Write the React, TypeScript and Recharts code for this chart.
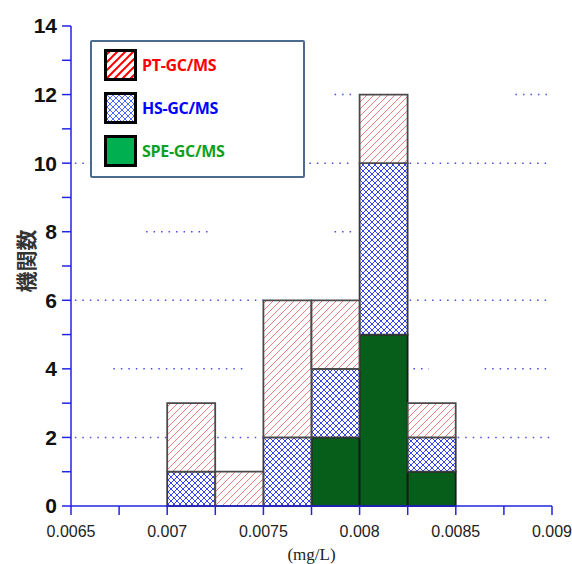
import React from 'react';
import {
  ComposedChart,
  Bar,
  XAxis,
  YAxis,
  ReferenceLine,
  Legend,
} from 'recharts';

// histogram bins (centre of each 0.00025 mg/L bin)
const binCenters = [0.007125, 0.007375, 0.007625, 0.007875, 0.008125, 0.008375];
const speCounts = [0, 0, 0, 2, 5, 1];
const hsCounts = [1, 0, 2, 2, 5, 1];
const ptCounts = [2, 1, 4, 2, 2, 1];

const xTicks = [0.0065, 0.00675, 0.007, 0.00725, 0.0075, 0.00775, 0.008, 0.00825, 0.0085, 0.00875, 0.009];
const xTickLabels = ['0.0065', '', '0.007', '', '0.0075', '', '0.008', '', '0.0085', '', '0.009'];
const yTicks = [0, 1, 2, 3, 4, 5, 6, 7, 8, 9, 10, 11, 12, 13, 14];

// the dotted grid only shows in pieces in the original: [y, xFrom, xTo]
const gridPieces: [number, number, number][] = [
  [12, 0.00787, 0.00796],
  [12, 0.00881, 0.00899],
  [10, 0.00652, 0.0066],
  [10, 0.0077, 0.00797],
  [10, 0.00826, 0.00899],
  [8, 0.00689, 0.00722],
  [8, 0.00787, 0.00796],
  [6, 0.00652, 0.0075],
  [6, 0.00826, 0.00899],
  [4, 0.00672, 0.0074],
  [4, 0.00828, 0.00836],
  [4, 0.00865, 0.00899],
  [2, 0.00652, 0.007],
  [2, 0.00726, 0.0075],
  [2, 0.00851, 0.00899],
];

const data = binCenters.map((x, i) => ({
  x,
  spe: speCounts[i],
  hs: hsCounts[i],
  pt: ptCounts[i],
}));

const legendItems = [
  { name: 'PT-GC/MS', fill: 'url(#ptLegend)', color: '#ff0000' },
  { name: 'HS-GC/MS', fill: 'url(#hsLegend)', color: '#0000ff' },
  { name: 'SPE-GC/MS', fill: '#00b050', color: '#10a020' },
];

const AXIS = '#2323e0';

const LegendBox = () => (
  <div
    style={{
      width: 215,
      height: 138,
      border: '2.5px solid #4a6a90',
      borderRadius: 2,
      background: '#fff',
      boxSizing: 'border-box',
      paddingTop: 1,
      paddingLeft: 12,
    }}
  >
    {legendItems.map(item => (
      <div key={item.name} style={{ display: 'flex', alignItems: 'center', height: 43 }}>
        <svg width={33} height={32}>
          <rect x={1.5} y={1.5} width={30} height={29} fill={item.fill} stroke="#000" strokeWidth={3} />
        </svg>
        <span
          style={{
            marginLeft: 5,
            fontFamily: '"Open Sans", sans-serif',
            fontWeight: 700,
            fontSize: 16,
            letterSpacing: -0.3,
            color: item.color,
          }}
        >
          {item.name}
        </span>
      </div>
    ))}
  </div>
);

const YLabel = (props: any) => {
  const { viewBox } = props;
  const cx = viewBox.x + 25;
  const cy = viewBox.y + viewBox.height / 2 - 5;
  return (
    <text
      x={cx}
      y={cy}
      transform={`rotate(-90 ${cx} ${cy})`}
      textAnchor="middle"
      dominantBaseline="central"
      fontFamily='"Noto Sans CJK JP", sans-serif'
      fontWeight={700}
      fontSize={21}
      fill="#333"
    >
      機関数
    </text>
  );
};

export default function App() {
  return (
    <div>
      <style>{'body{margin:0}'}</style>
      <svg width={0} height={0} style={{ position: 'absolute' }}>
        <defs>
          <pattern id="ptHatch" patternUnits="userSpaceOnUse" width={7} height={7}>
            <rect width={7} height={7} fill="#fff" />
            <path d="M-1,1 l2,-2 M0,7 l7,-7 M6,8 l2,-2" stroke="#f07070" strokeWidth={0.9} />
          </pattern>
          <pattern id="hsHatch" patternUnits="userSpaceOnUse" width={6} height={6}>
            <rect width={6} height={6} fill="#fff" />
            <path d="M0,0 L6,6 M0,6 L6,0" stroke="#1f2fe6" strokeWidth={0.9} />
          </pattern>
          <pattern id="ptLegend" patternUnits="userSpaceOnUse" width={8} height={8}>
            <rect width={8} height={8} fill="#fff" />
            <path d="M-2,2 l4,-4 M0,8 l8,-8 M6,10 l4,-4" stroke="#ff0000" strokeWidth={2} />
          </pattern>
          <pattern id="hsLegend" patternUnits="userSpaceOnUse" width={6} height={6}>
            <rect width={6} height={6} fill="#fff" />
            <path d="M0,0 L6,6 M0,6 L6,0" stroke="#2040ff" strokeWidth={0.8} />
          </pattern>
        </defs>
      </svg>
      <ComposedChart
        width={572}
        height={564}
        data={data}
        margin={{ top: 26, right: 20, left: 0, bottom: 0 }}
        style={{ fontFamily: '"Liberation Sans", Arial, sans-serif' }}
      >
        <XAxis
          dataKey="x"
          type="number"
          domain={[0.0065, 0.009]}
          ticks={xTicks}
          tickFormatter={(v: number) => xTickLabels[xTicks.indexOf(v)] ?? ''}
          interval={0}
          height={58}
          axisLine={{ stroke: AXIS, strokeWidth: 1.5 }}
          tickLine={{ stroke: AXIS, strokeWidth: 1.5 }}
          tickSize={9}
          tickMargin={11}
          tick={{ fill: '#222', fontSize: 16 }}
          allowDataOverflow
          label={{
            value: '(mg/L)',
            position: 'insideBottom',
            offset: 4,
            style: { fontFamily: '"Liberation Serif", serif', fontSize: 17, fill: '#222' },
          }}
        />
        <XAxis
          xAxisId="top"
          orientation="top"
          type="number"
          domain={[0.0065, 0.009]}
          ticks={xTicks}
          interval={0}
          height={0}
          tickFormatter={() => ''}
          axisLine={{ stroke: AXIS, strokeWidth: 1.5 }}
          tickLine={{ stroke: AXIS, strokeWidth: 1.5 }}
          tickSize={8}
        />
        <YAxis
          type="number"
          domain={[0, 14]}
          ticks={yTicks}
          interval={0}
          width={71}
          tickFormatter={(v: number) => (v % 2 === 0 ? String(v) : '')}
          axisLine={{ stroke: AXIS, strokeWidth: 1.5 }}
          tickLine={{ stroke: AXIS, strokeWidth: 1.5 }}
          tickSize={9}
          tickMargin={5}
          tick={{ fill: '#111', fontSize: 21, fontWeight: 700 }}
          label={<YLabel />}
        />
        <YAxis
          yAxisId="right"
          orientation="right"
          type="number"
          domain={[0, 14]}
          ticks={yTicks}
          interval={0}
          width={0}
          tickFormatter={() => ''}
          axisLine={{ stroke: AXIS, strokeWidth: 1.5 }}
          tickLine={{ stroke: AXIS, strokeWidth: 1.5 }}
          tickSize={8}
        />
        {gridPieces.map(([y, x1, x2], i) => (
          <ReferenceLine
            key={`g-${i}`}
            segment={[
              { x: x1, y },
              { x: x2, y },
            ]}
            stroke="#4a4af0"
            strokeWidth={1.5}
            strokeDasharray="1.5 6"
          />
        ))}
        <Bar dataKey="spe" stackId="a" barSize={48} fill="#075e1a" stroke="#1a1a1a" strokeWidth={1.8} isAnimationActive={false} />
        <Bar dataKey="hs" stackId="a" barSize={48} fill="url(#hsHatch)" stroke="#3a3a3a" strokeWidth={1.8} isAnimationActive={false} />
        <Bar dataKey="pt" stackId="a" barSize={48} fill="url(#ptHatch)" stroke="#4a4a4a" strokeWidth={1.8} isAnimationActive={false} />
        <Legend
          layout="vertical"
          align="center"
          verticalAlign="middle"
          wrapperStyle={{ left: 90, top: 40, width: 'auto' }}
          content={() => <LegendBox />}
        />
      </ComposedChart>
    </div>
  );
}
